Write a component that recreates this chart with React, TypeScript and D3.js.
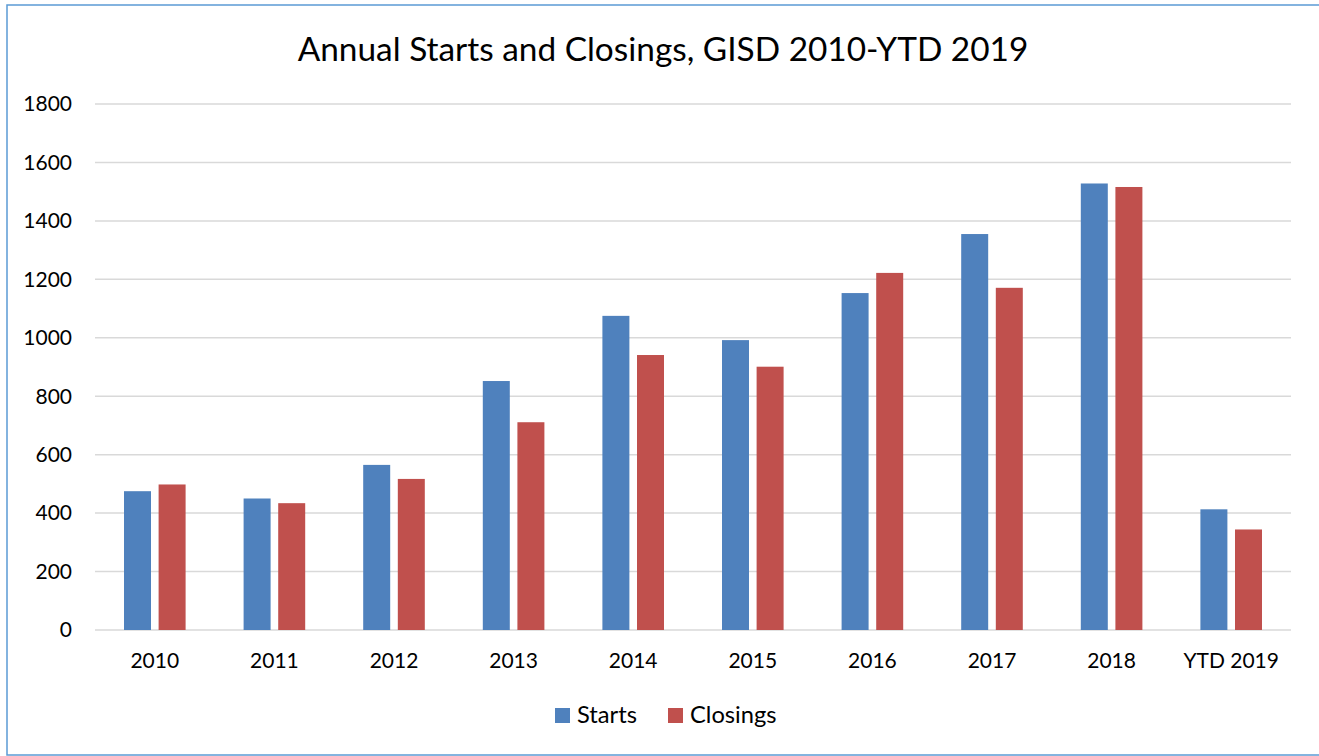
import { useEffect, useRef } from "react";
import * as d3 from "d3";

const categories = ["2010", "2011", "2012", "2013", "2014", "2015", "2016", "2017", "2018", "YTD 2019"];
const starts = [475, 450, 565, 852, 1075, 992, 1153, 1355, 1528, 413];
const closings = [498, 434, 517, 711, 941, 901, 1222, 1171, 1516, 344];
const seriesNames = ["Starts", "Closings"];
const seriesColors = ["#4F81BD", "#C0504D"];
const yTicks = [0, 200, 400, 600, 800, 1000, 1200, 1400, 1600, 1800];

const W = 1319;
const H = 756;
const FONT = "Lato, 'Open Sans', sans-serif";

const App = () => {
  const ref = useRef<SVGSVGElement>(null);

  useEffect(() => {
    const svg = d3.select(ref.current);
    svg.selectAll("*").remove();

    const margin = { top: 104, right: 28, bottom: 126, left: 95 };

    // outer frame
    svg
      .append("rect")
      .attr("x", 7)
      .attr("y", 5)
      .attr("width", W)
      .attr("height", 750)
      .attr("fill", "white")
      .attr("stroke", "#5B9BD5")
      .attr("stroke-width", 1.5);

    svg
      .append("text")
      .attr("x", 663)
      .attr("y", 61)
      .attr("text-anchor", "middle")
      .attr("font-family", FONT)
      .attr("font-size", 33.4)
      .attr("fill", "#000")
      .text("Annual Starts and Closings, GISD 2010-YTD 2019");

    const x = d3
      .scaleBand()
      .domain(categories)
      .range([margin.left, W - margin.right]);

    const y = d3
      .scaleLinear()
      .domain([0, 1800])
      .range([H - margin.bottom, margin.top]);

    // inner band for the two series, bars ~27px wide
    const x1 = d3
      .scaleBand()
      .domain(seriesNames)
      .range([x.bandwidth() / 2 - 30.8, x.bandwidth() / 2 + 30.8])
      .paddingInner(0.22);

    // gridlines
    svg
      .append("g")
      .selectAll("line")
      .data(yTicks)
      .join("line")
      .attr("x1", margin.left)
      .attr("x2", W - margin.right)
      .attr("y1", (d) => y(d))
      .attr("y2", (d) => y(d))
      .attr("stroke", "#D9D9D9")
      .attr("stroke-width", 1.5);

    // y labels
    svg
      .append("g")
      .attr("font-family", FONT)
      .attr("font-size", 21)
      .attr("text-anchor", "end")
      .selectAll("text")
      .data(yTicks)
      .join("text")
      .attr("x", 72)
      .attr("y", (d) => y(d))
      .attr("dy", "0.35em")
      .text((d) => d);

    const data = categories.map((c, i) => ({ cat: c, vals: [starts[i], closings[i]] }));

    // bars
    svg
      .append("g")
      .selectAll("g")
      .data(data)
      .join("g")
      .attr("transform", (d) => `translate(${x(d.cat)},0)`)
      .selectAll("rect")
      .data((d) => d.vals.map((v, j) => ({ key: seriesNames[j], v, color: seriesColors[j] })))
      .join("rect")
      .attr("x", (d) => x1(d.key)!)
      .attr("width", x1.bandwidth())
      .attr("y", (d) => y(d.v))
      .attr("height", (d) => y(0) - y(d.v))
      .attr("fill", (d) => d.color);

    // x labels
    svg
      .append("g")
      .attr("font-family", FONT)
      .attr("font-size", 21)
      .attr("text-anchor", "middle")
      .selectAll("text")
      .data(categories)
      .join("text")
      .attr("x", (d) => x(d)! + x.bandwidth() / 2)
      .attr("y", 668)
      .text((d) => d);

    // legend
    const legendX = [555, 668];
    const legend = svg
      .append("g")
      .selectAll("g")
      .data(seriesNames)
      .join("g")
      .attr("transform", (d, i) => `translate(${legendX[i]},708)`);
    legend
      .append("rect")
      .attr("width", 15)
      .attr("height", 15)
      .attr("fill", (d, i) => seriesColors[i]);
    legend
      .append("text")
      .attr("x", 22)
      .attr("y", 15)
      .attr("font-family", FONT)
      .attr("font-size", 23.7)
      .text((d) => d);
  }, []);

  return (
    <svg
      ref={ref}
      width={W}
      height={H}
      style={{ position: "absolute", left: 0, top: 0, display: "block" }}
    />
  );
};

export default App;
